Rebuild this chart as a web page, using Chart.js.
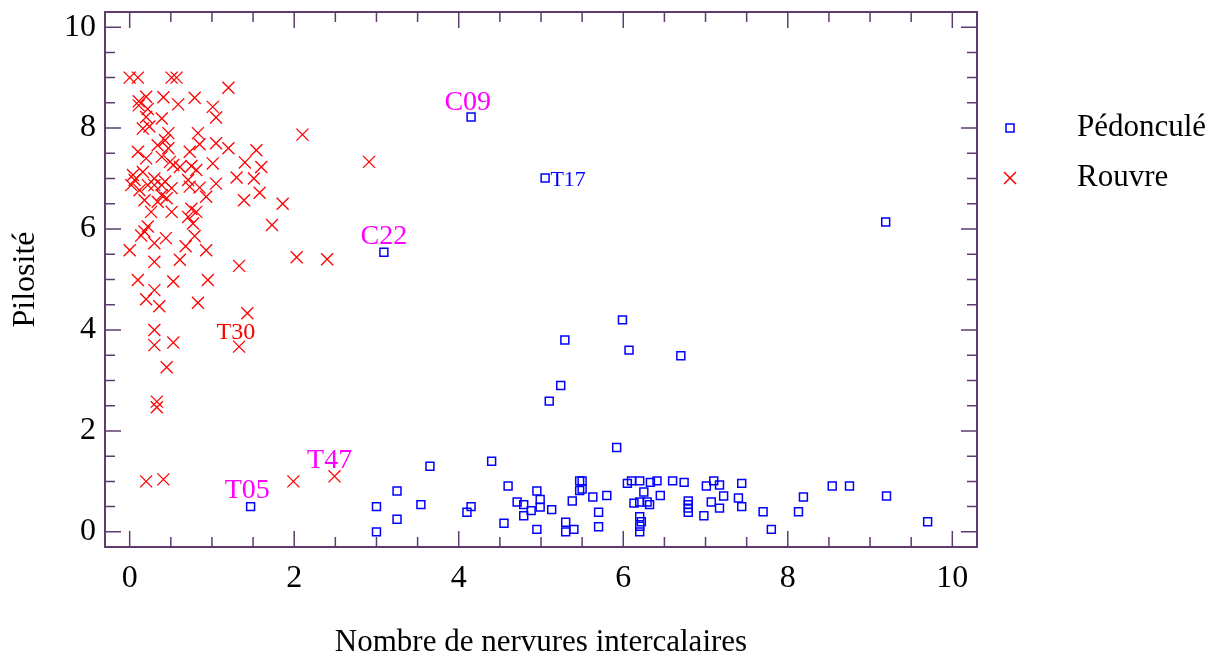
<!DOCTYPE html>
<html>
<head>
<meta charset="utf-8">
<script src="https://cdn.jsdelivr.net/npm/chart.js@4"></script>
<style>
  body { margin: 0; background: #fff; }
  canvas { display: block; }
</style>
</head>
<body>
<canvas id="myChart" width="1219" height="657"></canvas>
<script>
const pedonculeX = [4.15, 5.05, 9.19, 3.09, 5.99, 6.07, 6.70, 5.29, 5.24, 5.10, 5.92, 3.65, 4.40, 1.47, 3.00, 3.00, 3.25, 3.25, 3.54, 4.10, 4.15, 4.60, 4.55,
  4.95, 4.71, 4.79, 4.88, 4.79, 4.99, 4.99, 4.95, 5.13, 5.30, 5.30, 5.40, 5.38, 5.47, 5.50, 5.47, 5.50, 5.63, 5.70, 5.70, 5.80,
  6.05, 6.10, 6.20, 6.13, 6.20, 6.29, 6.32, 6.25, 6.20, 6.22, 6.20, 6.20, 6.33, 6.41, 6.45, 6.60, 6.74, 6.79, 6.79, 6.79, 6.79,
  6.98, 7.01, 7.10, 7.17, 7.07, 7.17, 7.22, 7.40, 7.44, 7.44, 7.70, 7.80, 8.13, 8.19, 8.54, 8.75, 9.20, 9.70];
const pedonculeY = [8.22, 7.01, 6.14, 5.54, 4.20, 3.60, 3.49, 3.80, 2.90, 2.59, 1.67, 1.30, 1.40, 0.50, 0.50, 0.00, 0.81, 0.25, 0.54, 0.39, 0.50, 0.91, 0.17,
  0.81, 0.59, 0.54, 0.42, 0.32, 0.64, 0.49, 0.05, 0.44, 0.19, 0.00, 0.05, 0.61, 1.01, 1.01, 0.82, 0.85, 0.69, 0.39, 0.10, 0.72,
  0.96, 1.01, 1.01, 0.57, 0.59, 0.59, 0.54, 0.79, 0.30, 0.20, 0.11, 0.00, 0.98, 1.01, 0.72, 1.01, 0.98, 0.61, 0.54, 0.47, 0.39,
  0.32, 0.91, 1.01, 0.93, 0.59, 0.47, 0.71, 0.67, 0.96, 0.50, 0.40, 0.05, 0.40, 0.69, 0.91, 0.91, 0.71, 0.20];

const rouvreX = [0.00, 0.10, 0.51, 0.57, 1.20, 2.10, 2.91, 0.20, 0.41, 0.79, 0.11, 0.11, 0.59, 1.01, 1.05, 0.22, 0.20, 0.39, 0.16, 0.24,
  0.47, 0.83, 0.43, 0.85, 1.05, 1.20, 1.54, 0.10, 0.34, 0.47, 0.73, 0.20, 0.39, 0.49, 0.53, 1.40, 1.60, 1.01, 0.75, 0.61,
  0.81, 0.04, 0.16, 0.30, 0.06, 0.43, 0.71, 1.30, 1.51, 1.05, 0.85, 0.02, 0.12, 0.22, 0.30, 0.39, 0.51, 0.73, 1.58, 0.39,
  0.45, 0.18, 0.34, 0.93, 1.39, 1.86, 0.51, 0.26, 0.75, 0.81, 0.71, 0.77, 1.73, 0.22, 0.18, 0.14, 0.79, 0.44, 0.30, 0.68,
  0.00, 0.93, 0.61, 0.30, 2.03, 2.40, 1.33, 0.10, 0.53, 0.95, 0.30, 0.20, 0.36, 0.83, 1.43, 0.30, 0.30, 0.53, 1.33, 0.45,
  0.33, 0.33, 0.20, 0.41, 1.99, 2.49];
const rouvreY = [9.00, 9.00, 9.00, 9.00, 8.80, 7.87, 7.33, 8.62, 8.61, 8.60, 8.53, 8.45, 8.47, 8.42, 8.21, 8.38, 8.22, 8.19, 7.99, 8.03,
  7.90, 7.90, 7.76, 7.68, 7.70, 7.60, 7.56, 7.53, 7.66, 7.60, 7.53, 7.40, 7.43, 7.33, 7.27, 7.32, 7.23, 7.30, 7.25, 7.23,
  7.17, 7.07, 7.13, 7.00, 6.97, 6.94, 6.97, 7.02, 7.00, 6.90, 6.82, 6.87, 6.77, 6.87, 6.87, 6.87, 6.81, 6.84, 6.72, 6.67,
  6.61, 6.57, 6.54, 6.64, 6.57, 6.50, 6.34, 6.34, 6.40, 6.34, 6.24, 6.11, 6.08, 6.05, 5.95, 5.87, 5.86, 5.82, 5.72, 5.66,
  5.58, 5.58, 5.39, 5.35, 5.44, 5.40, 5.27, 4.99, 4.96, 4.99, 4.79, 4.61, 4.47, 4.54, 4.33, 4.00, 3.70, 3.75, 3.67, 3.26,
  2.58, 2.47, 1.00, 1.04, 1.00, 1.10];

// annotations
const noteText = ['C09', 'T17', 'C22', 'T30', 'T05', 'T47'];
const noteX = [4.11, 5.33, 3.09, 1.29, 1.43, 2.43];
const noteY = [8.51, 6.97, 5.84, 3.94, 0.81, 1.41];
const noteColor = ['#ff00ff', '#0000ff', '#ff00ff', '#ff0000', '#ff00ff', '#ff00ff'];
const noteSize = [28, 22, 28, 24, 28, 28];

const tickValues = [0, 2, 4, 6, 8, 10];
const legendLabels = ['Pédonculé', 'Rouvre'];

const axisColor = '#5e3c6e';
const serif = '"Liberation Serif", "DejaVu Serif", serif';

const framePlugin = {
    id: 'frame',
    afterDatasetsDraw(chart) {
        const c = chart.ctx;
        const a = chart.chartArea;
        const xs = chart.scales.x, ys = chart.scales.y;
        c.save();
        c.strokeStyle = axisColor;
        c.lineWidth = 2;
        c.strokeRect(a.left, a.top, a.right - a.left, a.bottom - a.top);
        c.lineWidth = 1.5;
        for (let v = 0; v <= 10; v += 0.5) {
            const len = (v % 2 === 0) ? 16 : 10;
            const px = xs.getPixelForValue(v);
            const py = ys.getPixelForValue(v);
            c.beginPath();
            c.moveTo(px, a.bottom); c.lineTo(px, a.bottom - len);
            c.moveTo(px, a.top); c.lineTo(px, a.top + len);
            c.moveTo(a.left, py); c.lineTo(a.left + len, py);
            c.moveTo(a.right, py); c.lineTo(a.right - len, py);
            c.stroke();
        }
        // notes
        c.textAlign = 'center';
        c.textBaseline = 'middle';
        noteText.forEach((t, i) => {
            c.fillStyle = noteColor[i];
            c.font = noteSize[i] + 'px ' + serif;
            c.fillText(t, xs.getPixelForValue(noteX[i]), ys.getPixelForValue(noteY[i]));
        });
        // legend
        const lx = 1010;
        c.font = '31px ' + serif;
        c.textAlign = 'left';
        c.fillStyle = '#000';
        c.fillText(legendLabels[0], 1077, 128);
        c.fillText(legendLabels[1], 1077, 178);
        c.strokeStyle = '#0000ff';
        c.lineWidth = 1.5;
        c.strokeRect(lx - 4, 124, 8, 8);
        c.strokeStyle = '#ff0000';
        c.beginPath();
        c.moveTo(lx - 6, 172); c.lineTo(lx + 6, 184);
        c.moveTo(lx - 6, 184); c.lineTo(lx + 6, 172);
        c.stroke();
        c.restore();
    }
};

const ctx = document.getElementById('myChart').getContext('2d');

const data = {
    datasets: [{
        label: legendLabels[0],
        data: pedonculeX.map((x, i) => ({x: x, y: pedonculeY[i]})),
        pointStyle: 'rect',
        pointRadius: 5.6,
        pointHoverRadius: 5.6,
        borderWidth: 1.5,
        borderColor: '#0000ff',
        backgroundColor: 'rgba(0,0,0,0)'
    }, {
        label: legendLabels[1],
        data: rouvreX.map((x, i) => ({x: x, y: rouvreY[i]})),
        pointStyle: 'crossRot',
        pointRadius: 8.5,
        pointHoverRadius: 8.5,
        borderWidth: 1.3,
        borderColor: '#ff0000',
        backgroundColor: '#ff0000'
    }]
};

const myChart = new Chart(ctx, {
    type: 'scatter',
    data: data,
    options: {
        responsive: false,
        animation: false,
        layout: { padding: { top: 12, right: 242, left: 0, bottom: 0 } },
        plugins: { legend: { display: false }, tooltip: { enabled: false } },
        scales: {
            x: {
                type: 'linear', min: -0.3, max: 10.3,
                afterFit(s) { s.height = 110; s.paddingLeft = 0; s.paddingRight = 0; },
                afterBuildTicks(s) { s.ticks = tickValues.map(v => ({value: v})); },
                grid: { display: false, drawTicks: false },
                border: { display: false },
                ticks: { color: '#000', font: { family: serif, size: 32 }, padding: 12, maxRotation: 0 },
                title: { display: true, text: 'Nombre de nervures intercalaires', color: '#000',
                         font: { family: serif, size: 31 }, padding: { top: 0, bottom: -4 } }
            },
            y: {
                type: 'linear', min: -0.3, max: 10.3,
                afterFit(s) { s.width = 105; s.paddingTop = 0; s.paddingBottom = 0; },
                afterBuildTicks(s) { s.ticks = tickValues.map(v => ({value: v})); },
                grid: { display: false, drawTicks: false },
                border: { display: false },
                ticks: { color: '#000', font: { family: serif, size: 32 }, padding: 9 },
                title: { display: true, text: 'Pilosité', color: '#000',
                         font: { family: serif, size: 32 }, padding: { top: 6, bottom: 0 } }
            }
        }
    },
    plugins: [framePlugin]
});
</script>
</body>
</html>
